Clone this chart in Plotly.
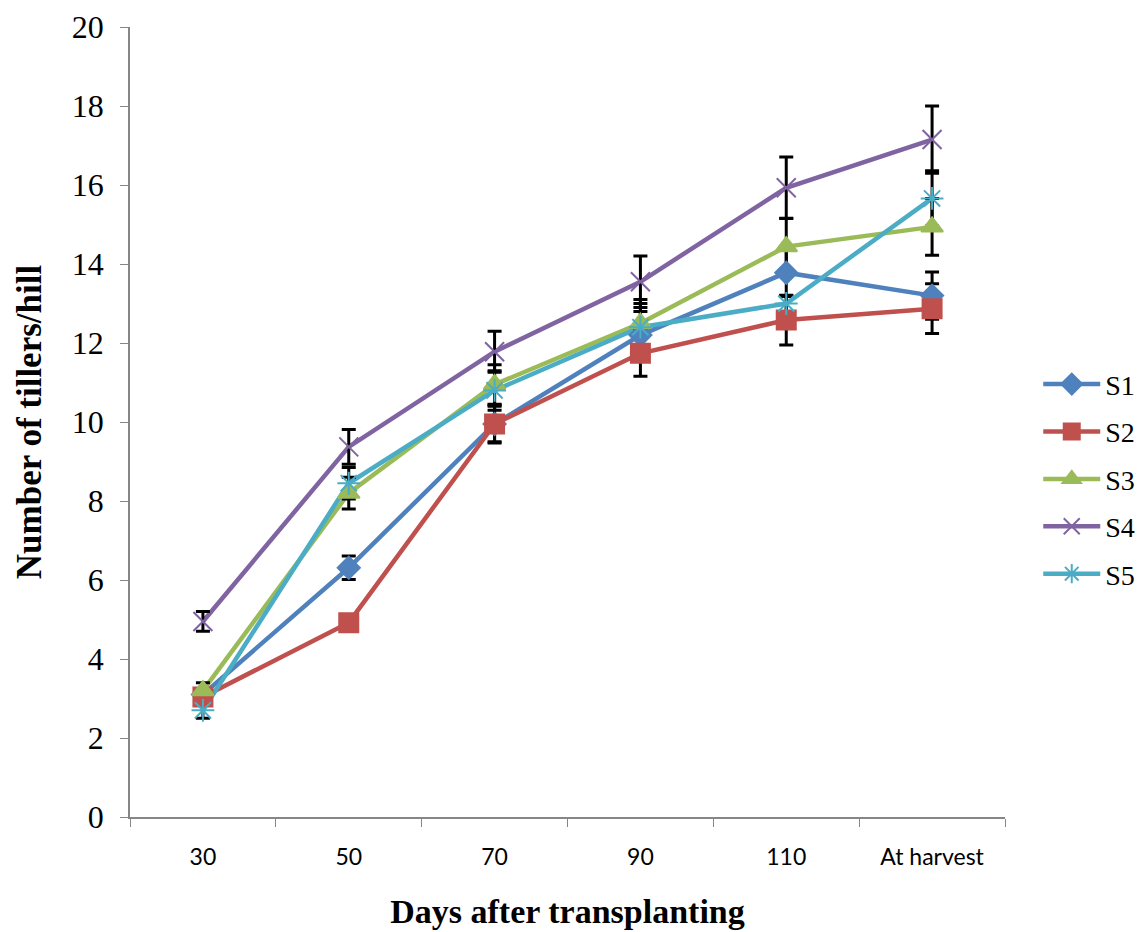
import plotly.graph_objects as go

categories = ["30", "50", "70", "90", "110", "At harvest"]
series_names = ["S1", "S2", "S3", "S4", "S5"]
s1 = [3.1, 6.31, 9.95, 12.2, 13.78, 13.2]
s2 = [3.04, 4.92, 9.95, 11.74, 12.58, 12.87]
s3 = [3.2, 8.2, 10.95, 12.5, 14.44, 14.94]
s4 = [4.95, 9.37, 11.78, 13.55, 15.93, 17.15]
s5 = [2.7, 8.45, 10.8, 12.4, 13.0, 15.66]
e1 = [0.15, 0.3, 0.45, 0.6, 0.6, 0.6]
e2 = [0.15, 0.1, 0.48, 0.58, 0.63, 0.63]
e3 = [0.2, 0.4, 0.5, 0.6, 0.72, 0.72]
e4 = [0.25, 0.44, 0.52, 0.65, 0.78, 0.85]
e5 = [0.2, 0.4, 0.5, 0.6, 0.2, 0.7]

values = [s1, s2, s3, s4, s5]
errors = [e1, e2, e3, e4, e5]
colors = ["#4F81BD", "#C0504D", "#9BBB59", "#8064A2", "#4BACC6"]
symbols = ["diamond", "square", "triangle-up", "x-thin-open", "asterisk-open"]
msizes = [17, 19, 19, 19, 19]

fig = go.Figure()
# 1) lines
for name, v, c in zip(series_names, values, colors):
    fig.add_trace(go.Scatter(
        x=categories, y=v, name=name, mode="lines", showlegend=False,
        line=dict(color=c, width=4.5), legendgroup=name,
    ))
# 2) error bars over the lines
for name, v, e in zip(series_names, values, errors):
    fig.add_trace(go.Scatter(
        x=categories, y=v, name=name + " error", mode="markers", showlegend=False,
        marker=dict(size=1, opacity=0),
        error_y=dict(type="data", array=e, visible=True, color="black", thickness=3, width=7),
        hoverinfo="skip", legendgroup=name,
    ))
# 3) markers on top
for name, v, c, sym, ms in zip(series_names, values, colors, symbols, msizes):
    fig.add_trace(go.Scatter(
        x=categories, y=v, name=name, mode="markers", showlegend=False,
        marker=dict(symbol=sym, size=ms, color=c, line=dict(color=c, width=2)),
        legendgroup=name,
    ))
# 4) legend entries (no data marks)
for name, c, sym, ms in zip(series_names, colors, symbols, msizes):
    fig.add_trace(go.Scatter(
        x=[None], y=[None], name=name, mode="lines+markers",
        line=dict(color=c, width=4.5),
        marker=dict(symbol=sym, size=ms, color=c, line=dict(color=c, width=2)),
        legendgroup=name,
    ))

fig.update_layout(
    width=1138, height=932,
    font=dict(family="Liberation Serif", size=28, color="black"),
    margin=dict(l=130, r=133, t=27, b=115, autoexpand=False),
    paper_bgcolor="white", plot_bgcolor="white",
    showlegend=True,
    legend=dict(x=1.038, y=0.428, yanchor="middle", xanchor="left",
                font=dict(family="Liberation Serif", size=28, color="black"),
                tracegroupgap=8, itemwidth=57, bgcolor="rgba(0,0,0,0)",
                traceorder="grouped"),
    xaxis=dict(
        type="category", categoryorder="array", categoryarray=categories,
        range=[-0.5, 5.5],
        showline=True, linecolor="#868686", linewidth=1.5,
        ticks="outside", tickson="boundaries", ticklen=8, tickcolor="#868686",
        tickfont=dict(family="Lato", size=23, color="black"),
        ticklabelstandoff=19,
        showgrid=False, zeroline=False,
        title=dict(text="<b>Days after transplanting</b>",
                   font=dict(family="Liberation Serif", size=34, color="black"), standoff=30),
    ),
    yaxis=dict(
        range=[0, 20], dtick=2,
        showline=True, linecolor="#868686", linewidth=1.5,
        ticks="outside", ticklen=8, tickcolor="#868686",
        tickfont=dict(family="Liberation Serif", size=32, color="black"),
        ticklabelstandoff=10,
        showgrid=False, zeroline=False,
        title=dict(text="<b>Number of tillers/hill</b>",
                   font=dict(family="Liberation Serif", size=35, color="black"), standoff=20),
    ),
)

fig.write_html("out.html")
